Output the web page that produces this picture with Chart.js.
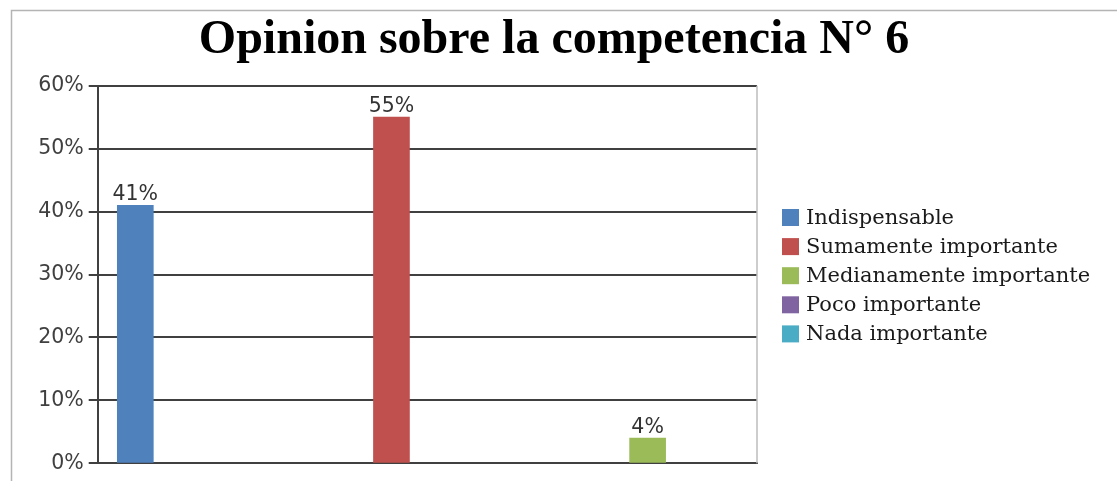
<!DOCTYPE html>
<html>
<head>
<meta charset="utf-8">
<script src="https://cdn.jsdelivr.net/npm/chart.js@4.4.1/dist/chart.umd.min.js"></script>
<style>
  html, body { margin: 0; padding: 0; background: #ffffff; }
  #wrap { position: relative; width: 1117px; height: 481px; }
</style>
</head>
<body>
<div id="wrap"><canvas id="c" width="1117" height="481"></canvas></div>
<script>
const titleText = "Opinion sobre la competencia N\u00b0 6";
const seriesNames = ["Indispensable", "Sumamente importante", "Medianamente importante", "Poco importante", "Nada importante"];
const seriesValues = [41, 55, 4, 0, 0];
const seriesColors = ["#4F81BD", "#C0504D", "#9BBB59", "#8064A2", "#4BACC6"];
const showLabel = [true, true, true, false, false];
const yTicks = [0, 10, 20, 30, 40, 50, 60];

const datasets = seriesNames.map((name, i) => ({
  label: name,
  data: [{ x: i, y: seriesValues[i] }],
  backgroundColor: seriesColors[i],
  borderWidth: 0,
  barThickness: 36,
  grouped: false
}));

const decorPlugin = {
  id: 'decor',
  beforeDraw(chart) {
    const ctx = chart.ctx;
    ctx.save();
    ctx.fillStyle = '#ffffff';
    ctx.fillRect(0, 0, chart.width, chart.height);
    ctx.strokeStyle = '#b4b4b4';
    ctx.lineWidth = 1.5;
    ctx.beginPath();
    ctx.moveTo(11.5, chart.height);
    ctx.lineTo(11.5, 10.5);
    ctx.lineTo(chart.width, 10.5);
    ctx.stroke();
    // title
    ctx.fillStyle = '#000000';
    ctx.font = 'bold 48px "Liberation Serif", serif';
    ctx.textAlign = 'center';
    ctx.textBaseline = 'alphabetic';
    ctx.fillText(titleText, 554, 53);
    ctx.restore();
  },
  afterDraw(chart) {
    const ctx = chart.ctx;
    const a = chart.chartArea;
    ctx.save();
    // right border of plot area
    ctx.strokeStyle = '#bdbdbd';
    ctx.lineWidth = 1.5;
    ctx.beginPath();
    ctx.moveTo(a.right, a.top);
    ctx.lineTo(a.right, a.bottom);
    ctx.stroke();
    // data labels
    ctx.font = '20.5px "DejaVu Sans", sans-serif';
    ctx.fillStyle = '#333333';
    ctx.textAlign = 'center';
    ctx.textBaseline = 'alphabetic';
    chart.data.datasets.forEach((ds, i) => {
      if (!showLabel[i]) return;
      const el = chart.getDatasetMeta(i).data[0];
      ctx.fillText(seriesValues[i] + '%', el.x, el.y - 5);
    });
    // legend
    const lx = 782, ly0 = 217.5, step = 29.1, box = 17;
    ctx.font = '21px "DejaVu Serif", serif';
    ctx.textAlign = 'left';
    ctx.textBaseline = 'middle';
    chart.data.datasets.forEach((ds, i) => {
      const cy = ly0 + i * step;
      ctx.fillStyle = ds.backgroundColor;
      ctx.fillRect(lx, cy - box / 2, box, box);
      ctx.fillStyle = '#1a1a1a';
      ctx.fillText(ds.label, lx + 24, cy + 1);
    });
    ctx.restore();
  }
};

new Chart(document.getElementById('c'), {
  type: 'bar',
  data: { datasets },
  options: {
    responsive: false,
    animation: false,
    events: [],
    layout: { padding: { left: 0, right: 360, top: 85.7, bottom: 17.7 } },
    plugins: {
      legend: { display: false },
      tooltip: { enabled: false },
      title: { display: false }
    },
    scales: {
      x: {
        type: 'linear',
        offset: false,
        min: -0.1468,
        max: 2.427,
        ticks: { display: false },
        grid: { display: false, drawTicks: false },
        border: { display: true, color: '#404040', width: 2 }
      },
      y: {
        min: 0,
        max: 60,
        afterBuildTicks(scale) { scale.ticks = yTicks.map(v => ({ value: v })); },
        afterFit(scale) { scale.width = 97.7; },
        ticks: {
          callback: v => v + '%',
          color: '#404040',
          font: { family: '"DejaVu Sans", sans-serif', size: 20.5 },
          padding: 5
        },
        grid: { color: '#404040', lineWidth: 2, tickLength: 9, drawTicks: true },
        border: { display: true, color: '#404040', width: 2 }
      }
    }
  },
  plugins: [decorPlugin]
});
</script>
</body>
</html>
